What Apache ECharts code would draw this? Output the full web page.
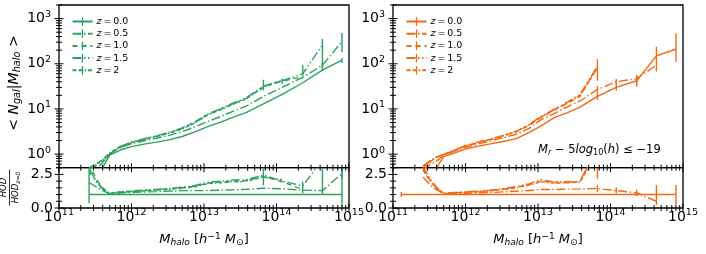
<!DOCTYPE html>
<html><head><meta charset="utf-8">
<script src="https://cdn.jsdelivr.net/npm/echarts@6/dist/echarts.min.js"></script>
<style>html,body{margin:0;padding:0;background:#fff}#c{width:706px;height:254px}</style>
</head><body><div id="c"></div>
<script>
// ---------- data ----------
const mass = [1.3e11, 1.9e11, 2.6e11, 3.3e11, 4e11, 5e11, 7e11, 1e12, 1.5e12, 2.2e12, 3.3e12, 5e12, 7.5e12, 1.1e13, 1.7e13, 2.5e13, 3.8e13, 6.6e13, 1.2e14, 2.3e14, 4.3e14, 8e14];
const zNames = ['0.0', '0.5', '1.0', '1.5', '2'];

// left panel: <N_gal|M_halo>
const L_z00 = [null, null, 0.15, 0.3, 0.5, 0.95, 1.23, 1.46, 1.66, 1.84, 2.07, 2.45, 3.1, 4.0, 5.1, 6.5, 8.3, 12.9, 21, 38, 72, 120];
const L_z05 = [null, null, 0.3, 0.45, 0.65, 1.0, 1.4, 1.7, 1.98, 2.25, 2.6, 3.15, 4.0, 5.2, 6.8, 8.8, 11.5, 19, 30, 50, 93, 310];
const L_z10 = [null, null, 0.5, 0.62, 0.76, 1.03, 1.4, 1.78, 2.15, 2.5, 2.95, 3.7, 5.0, 7.4, 9.9, 13, 17, 31, 41, 52, null, null];
const L_z15 = [null, null, 0.45, 0.57, 0.71, 1.0, 1.45, 1.85, 2.2, 2.55, 3.0, 3.8, 5.2, 7.6, 10.2, 13.5, 17.5, 32, 42, 60, 260, null];
const L_z20 = [null, null, 0.41, 0.6, 0.73, 1.05, 1.5, 1.8, 2.1, 2.45, 2.9, 3.6, 4.9, 7.2, 9.6, 12.6, 16.5, 30, 44, null, null, null];
// left panel: HOD / HOD_z=0
const LR_z00 = [null, null, 1, 1, 1, 1, 1, 1, 1, 1, 1, 1, 1, 1, 1, 1, 1, 1, 1, 1, 1, 1];
const LR_z05 = [null, null, 1.9, 1.55, 1.3, 1.05, 1.14, 1.16, 1.19, 1.22, 1.26, 1.29, 1.29, 1.3, 1.33, 1.35, 1.39, 1.47, 1.43, 1.33, 1.29, 2.58];
const LR_z10 = [null, null, 3.3, 2.1, 1.5, 1.08, 1.14, 1.22, 1.3, 1.36, 1.43, 1.51, 1.61, 1.85, 1.94, 2.0, 2.05, 2.35, 1.95, 1.37, null, null];
const LR_z15 = [null, null, 3.0, 1.9, 1.42, 1.05, 1.18, 1.27, 1.33, 1.39, 1.45, 1.55, 1.68, 1.9, 2.0, 2.08, 2.1, 2.45, 2.0, 1.65, 3.6, null];
const LR_z20 = [null, null, 2.7, 2.0, 1.46, 1.1, 1.22, 1.23, 1.27, 1.33, 1.4, 1.47, 1.58, 1.8, 1.88, 1.94, 1.99, 2.3, 2.1, null, null, null];

// right panel: <N_gal|M_halo>
const R_z00 = [0.2, 0.25, 0.3, 0.38, 0.5, 0.88, 1.05, 1.3, 1.5, 1.68, 1.9, 2.2, 3.0, 4.2, 6.5, 8.2, 11, 19, 30, 42, 150, 212];
const R_z05 = [null, null, 0.45, 0.6, 0.7, 0.95, 1.15, 1.42, 1.68, 1.95, 2.3, 2.75, 3.7, 5.8, 8, 11, 15, 27, 40, 47, 93, null];
const R_z10 = [null, null, 0.5, 0.7, 0.85, 0.97, 1.2, 1.5, 1.8, 2.1, 2.5, 3.1, 4.3, 6.5, 9.5, 13, 19, 85, null, null, null, null];
const R_z15 = [null, null, 0.55, 0.72, 0.88, 0.99, 1.22, 1.55, 1.85, 2.15, 2.6, 3.2, 4.5, 6.8, 10, 14, 21, 88, null, null, null, null];
const R_z20 = [null, null, 0.52, 0.68, 0.86, 0.98, 1.21, 1.52, 1.83, 2.12, 2.55, 3.15, 4.4, 6.6, 9.7, 13.5, 20, 80, null, null, null, null];
// right panel: HOD / HOD_z=0
const RR_z00 = [1, 1, 1, 1, 1, 1, 1, 1, 1, 1, 1, 1, 1, 1, 1, 1, 1, 1, 1, 1, 1, 1];
const RR_z05 = [null, null, 2.3, 1.7, 1.35, 1.05, 1.1, 1.1, 1.12, 1.15, 1.2, 1.25, 1.3, 1.38, 1.38, 1.4, 1.42, 1.45, 1.3, 1.12, 0.5, null];
const RR_z10 = [null, null, 2.9, 2.0, 1.5, 1.08, 1.14, 1.18, 1.22, 1.3, 1.4, 1.55, 1.75, 2.0, 1.9, 1.9, 1.95, 4.5, null, null, null, null];
const RR_z15 = [null, null, 3.1, 2.1, 1.55, 1.1, 1.16, 1.2, 1.25, 1.33, 1.45, 1.6, 1.8, 2.1, 1.95, 1.95, 2.0, 4.6, null, null, null, null];
const RR_z20 = [null, null, 2.8, 1.95, 1.45, 1.06, 1.12, 1.16, 1.2, 1.28, 1.38, 1.5, 1.7, 1.95, 1.85, 1.88, 1.92, 4.2, null, null, null, null];

// error bars: [mass, low, high]
const L_err = {
  z00: [[8e14, 105, 135]],
  z05: [[8e14, 180, 480], [4.3e14, 80, 108]],
  z10: [[6.6e13, 26, 44], [1.2e14, 36, 47]],
  z15: [[4.3e14, 69, 353]],
  z20: [[2.3e14, 54, 93]]
};
const LR_err = {
  z00: [[2.6e11, 0.35, 5], [8e14, 0, 5]],
  z05: [[8e14, 2.2, 5]],
  z10: [[6.6e13, 1.7, 3.1]],
  z15: [[4.3e14, 1.05, 5]],
  z20: [[2.3e14, 1.1, 1.95]]
};
const R_err = {
  z00: [[8e14, 111, 472], [4.3e14, 67, 239], [2.3e14, 31, 56], [1.2e14, 25, 36], [6.6e13, 16, 23]],
  z05: [[6.6e13, 23, 32], [1.2e14, 35, 46], [2.3e14, 40, 55]],
  z10: [[6.6e13, 42, 126]],
  z15: [],
  z20: []
};
const RR_err = {
  z00: [[8e14, 0.22, 1.71], [4.3e14, 0.22, 1.71], [1.3e11, 0.84, 1.2]],
  z05: [[6.6e13, 1.2, 1.7], [1.2e14, 1.1, 1.55], [2.3e14, 0.9, 1.35]],
  z10: [[6.6e13, 2.2, 5]],
  z15: [],
  z20: []
};

const yMajorRatio = [0, 2.5];

// ---------- style ----------
const FONT = 'DejaVu Sans';
const GREEN = '#2ca25f', ORANGE = '#f16913';
const keys = ['z00', 'z05', 'z10', 'z15', 'z20'];
const dashes = { z00: 'solid', z05: [9, 2.5, 1.5, 2.5], z10: [5, 4], z15: [9, 2.5, 1.5, 2.5, 1.5, 2.5], z20: [4, 2, 4, 2, 1.5, 2] };
const GL = 59, GR = 393, GW = 290, MT = 5, MH = 162.7, RT = 167.7, RH = 40.3;

const sets = {
  L: { z00: L_z00, z05: L_z05, z10: L_z10, z15: L_z15, z20: L_z20 },
  LR: { z00: LR_z00, z05: LR_z05, z10: LR_z10, z15: LR_z15, z20: LR_z20 },
  R: { z00: R_z00, z05: R_z05, z10: R_z10, z15: R_z15, z20: R_z20 },
  RR: { z00: RR_z00, z05: RR_z05, z10: RR_z10, z15: RR_z15, z20: RR_z20 }
};

function sName(i, right) { return 'z = ' + zNames[i] + (right ? '\u200b' : ''); }

// square bounding box with a thin centred vertical bar (error-bar look in legend)
const symbolBar = 'path://M0,0h0.01v0.01h-0.01zM4.3,0h1.4v10h-1.4zM9.99,9.99h0.01v0.01h-0.01z';
function lineSeries(gi, vals, color, dash, name) {
  return {
    type: 'line', name, xAxisIndex: gi, yAxisIndex: gi,
    data: mass.map((m, i) => [m, vals[i] == null ? '-' : vals[i]]),
    showSymbol: false, symbol: symbolBar, symbolSize: 10,
    lineStyle: { color, width: 1.4, type: dash }, itemStyle: { color },
    emphasis: { disabled: true }, animation: false, clip: true, z: 3
  };
}
function ebSeries(gi, arr, color) {
  return {
    type: 'custom', xAxisIndex: gi, yAxisIndex: gi, clip: true, silent: true, animation: false,
    data: arr, encode: { x: 0, y: [1, 2] }, z: 3,
    renderItem(params, api) {
      const a = api.coord([api.value(0), api.value(1)]);
      const b = api.coord([api.value(0), api.value(2)]);
      return { type: 'line', shape: { x1: a[0], y1: a[1], x2: b[0], y2: b[1] }, style: { stroke: color, lineWidth: 1.4 } };
    }
  };
}
function tickSeries(gi, xt, yt, xAtY, yAtX) {
  const data = [];
  xt.forEach(t => data.push([t[0], xAtY, t[1], 0]));
  yt.forEach(t => data.push([yAtX, t[0], t[1], 1]));
  return {
    type: 'custom', xAxisIndex: gi, yAxisIndex: gi, clip: false, silent: true, animation: false,
    data, encode: { x: 0, y: 1 }, z: 6,
    renderItem(params, api) {
      const p = api.coord([api.value(0), api.value(1)]);
      const h = api.value(2);
      const vert = api.value(3) === 0;
      return {
        type: 'line',
        shape: vert ? { x1: p[0], y1: p[1] - h, x2: p[0], y2: p[1] + h } : { x1: p[0] - h, y1: p[1], x2: p[0] + h, y2: p[1] },
        style: { stroke: '#000', lineWidth: 1 }
      };
    }
  };
}

// tick lists (positions only)
const MAJ = 4.5, MIN = 3;
const xTicks = [];
for (let e = 11; e <= 14; e++) { xTicks.push([Math.pow(10, e), MAJ]); for (let k = 2; k <= 9; k++) xTicks.push([k * Math.pow(10, e), MIN]); }
xTicks.push([1e15, MAJ]);
const yTicksMain = [];
for (let e = -1; e <= 3; e++) {
  for (let k = 1; k <= 9; k++) {
    const v = k * Math.pow(10, e);
    if (v < 0.5 - 1e-9 || v > 2000 + 1e-9) continue;
    yTicksMain.push([v, k === 1 ? MAJ : MIN]);
  }
}
const yTicksRatio = [];
for (let v = 0; v <= 3.0001; v += 0.5) yTicksRatio.push([v, yMajorRatio.some(m => Math.abs(m - v) < 1e-6) ? MAJ : MIN]);

// ---------- axes ----------
const supRich = {
  b: { fontFamily: FONT, fontSize: 14, color: '#000', lineHeight: 16 },
  s: { fontFamily: FONT, fontSize: 9.5, color: '#000', lineHeight: 10, padding: [0, 0, 8, 0] }
};
function powLabel(v) {
  const l = Math.log10(v);
  if (Math.abs(l - Math.round(l)) > 1e-6) return '';
  return '{b|10}{s|' + Math.round(l) + '}';
}
const grids = [
  { left: GL, top: MT, width: GW, height: MH },
  { left: GL, top: RT, width: GW, height: RH },
  { left: GR, top: MT, width: GW, height: MH },
  { left: GR, top: RT, width: GW, height: RH }
].map(g => Object.assign(g, { show: true, borderColor: '#000', borderWidth: 1.3, backgroundColor: 'rgba(0,0,0,0)', containLabel: false }));

const xAxes = grids.map((g, i) => ({
  type: 'log', logBase: 10, gridIndex: i, min: 1e11, max: 1e15,
  axisLine: { show: false }, axisTick: { show: false }, splitLine: { show: false },
  axisLabel: i % 2 === 1 ? { show: true, margin: 1, formatter: powLabel, rich: supRich, showMinLabel: true, showMaxLabel: true, hideOverlap: false } : { show: false }
}));
const yAxes = grids.map((g, i) => i % 2 === 0 ? ({
  type: 'log', logBase: 10, gridIndex: i, min: 0.5, max: 2000,
  axisLine: { show: false }, axisTick: { show: false }, splitLine: { show: false },
  axisLabel: { show: true, margin: 8, formatter: powLabel, rich: supRich }
}) : ({
  type: 'value', gridIndex: i, min: 0, max: 3, interval: 2.5,
  axisLine: { show: false }, axisTick: { show: false }, splitLine: { show: false },
  axisLabel: { show: true, margin: 6, fontFamily: FONT, fontSize: 14, color: '#000',
    formatter: v => yMajorRatio.some(m => Math.abs(m - v) < 1e-6) ? v.toFixed(1) : '' }
}));

// ---------- series ----------
const series = [];
[['L', 0, GREEN, false], ['LR', 1, GREEN, false], ['R', 2, ORANGE, true], ['RR', 3, ORANGE, true]].forEach(([set, gi, color, right]) => {
  keys.forEach((k, i) => {
    series.push(lineSeries(gi, sets[set][k], color, dashes[k], sName(i, right)));
  });
  const errs = { L: L_err, LR: LR_err, R: R_err, RR: RR_err }[set];
  keys.forEach(k => { if (errs[k].length) series.push(ebSeries(gi, errs[k], color)); });
});
series.push(tickSeries(0, xTicks, yTicksMain, 0.5, 1e11));
series.push(tickSeries(1, xTicks, yTicksRatio, 0, 1e11));
series.push(tickSeries(2, xTicks, yTicksMain, 0.5, 1e11));
series.push(tickSeries(3, xTicks, yTicksRatio, 0, 1e11));

// ---------- legends ----------
function legend(left, right) {
  return {
    orient: 'vertical', left, top: 11.5, itemWidth: 20, itemHeight: 11, itemGap: 2.2,
    selectedMode: false, symbolKeepAspect: true,
    data: zNames.map((z, i) => sName(i, right)),
    formatter: n => '{i|z}\u2009=\u2009' + n.replace(/[^0-9.]/g, ''),
    textStyle: { fontFamily: FONT, fontSize: 9.5, color: '#000', padding: [0, 0, 0, -1],
      rich: { i: { fontFamily: FONT, fontSize: 9.5, fontStyle: 'italic', color: '#000' } } }
  };
}

// ---------- text ----------
const txtRich = (fs) => ({
  n: { fontFamily: FONT, fontSize: fs, color: '#000' },
  i: { fontFamily: FONT, fontSize: fs, fontStyle: 'italic', color: '#000' },
  sub: { fontFamily: FONT, fontSize: fs * 0.7, fontStyle: 'italic', color: '#000', padding: [fs * 0.45, 0, 0, 0] },
  subn: { fontFamily: FONT, fontSize: fs * 0.7, color: '#000', padding: [fs * 0.45, 0, 0, 0] },
  sup: { fontFamily: FONT, fontSize: fs * 0.7, color: '#000', padding: [0, 0, fs * 0.5, 0] }
});
const xTitle = '{i|M}{sub|halo}{n| [}{i|h}{sup|\u22121}{n| }{i|M}{subn|\u2299}{n|]}';
const graphic = [
  { type: 'text', x: GL + GW / 2, y: 240, style: { text: xTitle, rich: txtRich(13), align: 'center', verticalAlign: 'middle' } },
  { type: 'text', x: GR + GW / 2, y: 240, style: { text: xTitle, rich: txtRich(13), align: 'center', verticalAlign: 'middle' } },
  { type: 'text', x: 14, y: 83, rotation: Math.PI / 2,
    style: { text: '{n|< }{i|N}{sub|gal}{n||}{i|M}{sub|halo}{n| >}', rich: txtRich(14), align: 'center', verticalAlign: 'middle' } },
  { type: 'group', x: 9.5, y: 187.5, rotation: Math.PI / 2, children: [
    { type: 'text', x: 0, y: -1.5, style: { text: 'HOD', fontFamily: FONT, fontSize: 8.5, fontStyle: 'italic', fill: '#000', align: 'center', verticalAlign: 'bottom' } },
    { type: 'line', shape: { x1: -18, y1: 0, x2: 18, y2: 0 }, style: { stroke: '#000', lineWidth: 0.8 } },
    { type: 'text', x: 0, y: 1.5, style: { text: '{n|HOD}{s|z=0}', align: 'center', verticalAlign: 'top',
      rich: { n: { fontFamily: FONT, fontSize: 8.5, fontStyle: 'italic', fill: '#000' }, s: { fontFamily: FONT, fontSize: 6, fontStyle: 'italic', padding: [4, 0, 0, 0] } } } }
  ] },
  { type: 'text', x: 538, y: 150, style: { text: '{i|M}{sub|r}{n| \u2212 5}{i|log}{subn|10}{n|(}{i|h}{n|) \u2264 \u221219}', rich: txtRich(11.5), align: 'left', verticalAlign: 'middle' } }
];

const chart = echarts.init(document.getElementById('c'), null, { renderer: 'canvas' });
chart.setOption({
  animation: false,
  grid: grids, xAxis: xAxes, yAxis: yAxes, series,
  legend: [legend(66.5, false), legend(400.5, true)],
  graphic
});
</script></body></html>
